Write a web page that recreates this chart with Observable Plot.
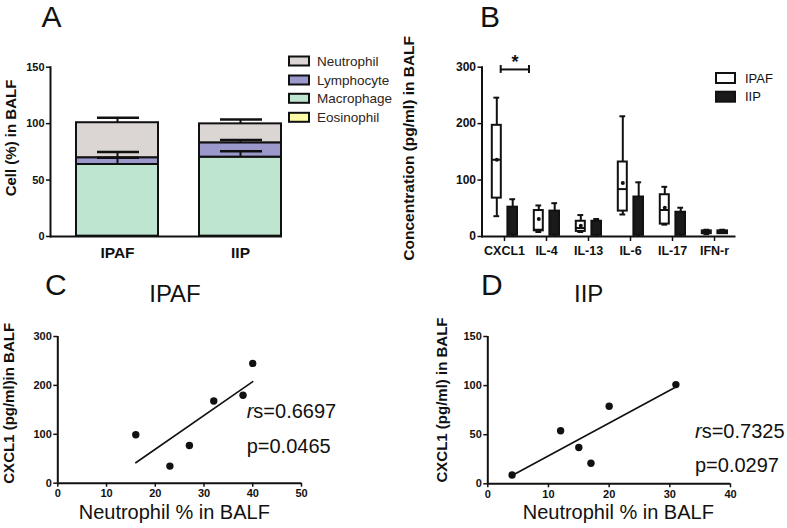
<!DOCTYPE html>
<html><head><meta charset="utf-8">
<script src="https://cdn.jsdelivr.net/npm/d3@7"></script>
<script src="https://cdn.jsdelivr.net/npm/@observablehq/plot@0.6"></script>
<style>
body{margin:0;background:#fff;}
#wrap{position:relative;width:787px;height:528px;overflow:hidden;background:#fff;font-family:"Liberation Sans",Arial,sans-serif;}
#wrap svg{position:absolute;left:0;top:0;}
</style></head><body><div id="wrap"></div>
<script>
// ---------- Panel A data ----------
const groups = ["IPAF", "IIP"];
const cellTypes = ["Eosinophil", "Macrophage", "Lymphocyte", "Neutrophil"]; // bottom -> top
const cellColors = ["#fdfca6", "#bde5cf", "#9b98cc", "#dbd6d3"];
const ipafCells = [0.3, 63.5, 6, 31];
const iipCells = [0.3, 70, 12.7, 16.8];
const ipafCellSD = [0, 6, 5, 4.4];
const iipCellSD = [0, 5.3, 2.6, 3.8];
const legendOrderA = ["Neutrophil", "Lymphocyte", "Macrophage", "Eosinophil"];

// ---------- Panel B data ----------
const cytokines = ["CXCL1", "IL-4", "IL-13", "IL-6", "IL-17", "IFN-r"];
const ipafMin    = [36, 8, 8, 39, 21, 4];
const ipafQ1     = [68, 10, 9, 45, 22, 5];
const ipafMedian = [136, 12, 15, 84, 47, 8];
const ipafQ3     = [197, 46, 27, 132, 74, 10];
const ipafMax    = [246, 55, 38, 213, 88, 12];
const ipafMean   = [136, 31, 19, 95, 51, 8];
const iipMin     = [0, 0, 0, 0, 0, 4];
const iipQ1      = [2, 2, 2, 2, 2, 5];
const iipQ3      = [52, 45, 27, 70, 43, 10];
const iipMax     = [66, 59, 31, 96, 51, 12];

// ---------- Panel C / D data ----------
const ipafNeutrophil = [16, 23, 27, 32, 38, 40];
const ipafCXCL1      = [99, 35, 77, 168, 180, 245];
const iipNeutrophil  = [4, 12, 15, 17, 20, 31];
const iipCXCL1       = [9, 54, 37, 21, 79, 101];

const FONT = '"Liberation Sans", Arial, sans-serif';
const W = 787, H = 528;
const wrap = document.getElementById("wrap");
const baseStyle = {background: "transparent", fontFamily: FONT, fontWeight: "bold", color: "#111", overflow: "visible"};
const axisFont = (size) => ({fontSize: size, fontWeight: "bold", fontFamily: FONT, fill: "#111"});

// ---------- Panel A ----------
const stackRows = [], errRows = [];
groups.forEach((g, gi) => {
  const vals = gi === 0 ? ipafCells : iipCells;
  const sds = gi === 0 ? ipafCellSD : iipCellSD;
  let acc = 0;
  cellTypes.forEach((t, ti) => {
    const y1 = acc, y2 = acc + vals[ti];
    stackRows.push({group: g, type: t, y1, y2});
    if (sds[ti] > 0) errRows.push({group: g, top: y2, cap: y2 + sds[ti]});
    acc = y2;
  });
});
const plotA = Plot.plot({
  width: W, height: H,
  marginLeft: 50, marginRight: W - 282, marginTop: 66.7, marginBottom: H - 236,
  style: {...baseStyle, fontSize: "11px"},
  x: {type: "band", domain: groups, paddingInner: 0.336, paddingOuter: 0.107, align: 0.943},
  y: {domain: [0, 150]},
  color: {domain: cellTypes, range: cellColors},
  marks: [
    Plot.barY(stackRows, {x: "group", y1: "y1", y2: "y2", fill: "type", stroke: "#111", strokeWidth: 2}),
    Plot.ruleX(errRows, {x: "group", y1: "top", y2: "cap", stroke: "#111", strokeWidth: 2}),
    Plot.tickY(errRows, {x: "group", y: "cap", stroke: "#111", strokeWidth: 2.5, insetLeft: 21, insetRight: 19}),
    Plot.axisY({ticks: [0, 50, 100, 150], tickSize: 4, tickPadding: 2, label: null, strokeWidth: 1.5, ...axisFont(11)}),
    Plot.axisX({tickSize: 0, tickPadding: 10, label: null, ...axisFont(15.5)}),
    Plot.ruleY([0], {stroke: "#111", strokeWidth: 2}),
    Plot.frame({anchor: "left", stroke: "#111", strokeWidth: 2})
  ]
});
wrap.appendChild(plotA);

// ---------- Panel B ----------
const boxRows = cytokines.map((c, i) => ({
  c, min: ipafMin[i], q1: ipafQ1[i], med: ipafMedian[i], q3: ipafQ3[i], max: ipafMax[i], mean: ipafMean[i],
  imin: iipMin[i], iq1: iipQ1[i], iq3: iipQ3[i], imax: iipMax[i]
}));
const plotB = Plot.plot({
  width: W, height: H,
  marginLeft: 481.5, marginRight: W - 735.5, marginTop: 66.7, marginBottom: H - 236,
  style: {...baseStyle, fontSize: "12px"},
  x: {type: "band", domain: cytokines, padding: 0},
  y: {domain: [0, 300]},
  marks: [
    // IPAF whiskers
    Plot.ruleX(boxRows, {x: "c", y1: "q3", y2: "max", dx: -7.7, stroke: "#111", strokeWidth: 2}),
    Plot.ruleX(boxRows, {x: "c", y1: "min", y2: "q1", dx: -7.7, stroke: "#111", strokeWidth: 2}),
    Plot.tickY(boxRows, {x: "c", y: "max", insetLeft: 10.4, insetRight: 25.8, stroke: "#111", strokeWidth: 2}),
    Plot.tickY(boxRows, {x: "c", y: "min", insetLeft: 10.4, insetRight: 25.8, stroke: "#111", strokeWidth: 2}),
    Plot.barY(boxRows, {x: "c", y1: "q1", y2: "q3", insetLeft: 8.8, insetRight: 24.2, fill: "white", stroke: "#111", strokeWidth: 2}),
    Plot.tickY(boxRows, {x: "c", y: "med", insetLeft: 8.8, insetRight: 24.2, stroke: "#111", strokeWidth: 2}),
    Plot.dot(boxRows, {x: "c", y: "mean", dx: -7.7, r: 2, fill: "#111"}),
    // IIP
    Plot.ruleX(boxRows, {x: "c", y1: "iq3", y2: "imax", dx: 8.2, stroke: "#111", strokeWidth: 2}),
    Plot.tickY(boxRows, {x: "c", y: "imax", insetLeft: 26.3, insetRight: 9.9, stroke: "#111", strokeWidth: 2}),
    Plot.ruleX(boxRows, {x: "c", y1: "imin", y2: "iq1", dx: 8.2, stroke: "#111", strokeWidth: 2}),
    Plot.barY(boxRows, {x: "c", y1: "iq1", y2: "iq3", insetLeft: 24.4, insetRight: 8, fill: "#1a1a1a", stroke: "#111", strokeWidth: 2}),
    // significance bracket
    Plot.tickY([cytokines[0]], {x: d => d, y: () => 296, insetLeft: 17, insetRight: -3, stroke: "#111", strokeWidth: 2}),
    Plot.ruleX([cytokines[0]], {x: d => d, y1: () => 289, y2: () => 303, dx: -3.8, stroke: "#111", strokeWidth: 2}),
    Plot.ruleX([cytokines[0]], {x: d => d, y1: () => 289, y2: () => 303, dx: 24.5, stroke: "#111", strokeWidth: 2}),
    Plot.text([cytokines[0]], {x: d => d, y: () => 309, dx: 10.5, text: () => "*", fontSize: 18, fontWeight: "bold"}),
    Plot.axisY({ticks: [0, 100, 200, 300], tickSize: 4, tickPadding: 2, label: null, strokeWidth: 1.5, ...axisFont(12)}),
    Plot.axisX({tickSize: 5, tickPadding: 5, label: null, strokeWidth: 1.5, ...axisFont(12.5)}),
    Plot.ruleY([0], {stroke: "#111", strokeWidth: 2}),
    Plot.frame({anchor: "left", stroke: "#111", strokeWidth: 2})
  ]
});
wrap.appendChild(plotB);

// ---------- Panel C ----------
const cRows = ipafNeutrophil.map((x, i) => ({x, y: ipafCXCL1[i]}));
const plotC = Plot.plot({
  width: W, height: H,
  marginLeft: 57.3, marginRight: W - 301, marginTop: 336, marginBottom: H - 482.7,
  style: {...baseStyle, fontSize: "11px"},
  x: {domain: [0, 50]},
  y: {domain: [0, 300]},
  marks: [
    Plot.axisX({ticks: [0, 10, 20, 30, 40, 50], tickSize: 4, tickPadding: 2, label: null, strokeWidth: 1.5, ...axisFont(11)}),
    Plot.axisY({ticks: [0, 100, 200, 300], tickSize: 4, tickPadding: 2, label: null, strokeWidth: 1.5, ...axisFont(11)}),
    Plot.ruleX([0], {stroke: "#111", strokeWidth: 2}),
    Plot.ruleY([0], {stroke: "#111", strokeWidth: 2}),
    Plot.linearRegressionY(cRows, {x: "x", y: "y", ci: 0, stroke: "#111", strokeWidth: 1.6}),
    Plot.dot(cRows, {x: "x", y: "y", r: 3.7, fill: "#111"})
  ]
});
wrap.appendChild(plotC);

// ---------- Panel D ----------
const dRows = iipNeutrophil.map((x, i) => ({x, y: iipCXCL1[i]}));
const plotD = Plot.plot({
  width: W, height: H,
  marginLeft: 487.3, marginRight: W - 730, marginTop: 336, marginBottom: H - 483.3,
  style: {...baseStyle, fontSize: "11px"},
  x: {domain: [0, 40]},
  y: {domain: [0, 150]},
  marks: [
    Plot.axisX({ticks: [0, 10, 20, 30, 40], tickSize: 4, tickPadding: 2, label: null, strokeWidth: 1.5, ...axisFont(11)}),
    Plot.axisY({ticks: [0, 50, 100, 150], tickSize: 4, tickPadding: 2, label: null, strokeWidth: 1.5, ...axisFont(11)}),
    Plot.ruleX([0], {stroke: "#111", strokeWidth: 2}),
    Plot.ruleY([0], {stroke: "#111", strokeWidth: 2}),
    Plot.linearRegressionY(dRows, {x: "x", y: "y", ci: 0, stroke: "#111", strokeWidth: 1.6}),
    Plot.dot(dRows, {x: "x", y: "y", r: 3.7, fill: "#111"})
  ]
});
wrap.appendChild(plotD);

// ---------- Overlay: labels & legends ----------
const ov = d3.select(wrap).append("svg").attr("width", W).attr("height", H)
  .style("font-family", FONT).style("overflow", "visible");
function txt(x, y, s, size, opts = {}) {
  const t = ov.append("text").attr("x", x).attr("y", y).attr("font-size", size)
    .attr("fill", opts.fill || "#111").attr("font-weight", opts.weight || "normal")
    .attr("text-anchor", opts.anchor || "start");
  if (opts.rotate) {
    t.attr("transform", `rotate(-90,${x},${y})`).attr("dominant-baseline", "central");
  }
  if (opts.central) t.attr("dominant-baseline", "central");
  t.text(s);
  return t;
}
// panel letters
txt(41.5, 26.7, "A", 30);
txt(480, 26.7, "B", 30);
txt(45, 295, "C", 30);
txt(481, 295, "D", 30);
// titles
txt(175, 302.3, "IPAF", 24, {anchor: "middle"});
txt(588.7, 302.3, "IIP", 24, {anchor: "middle"});
// y labels
txt(10, 138, "Cell (%) in BALF", 15, {rotate: true, weight: "bold", anchor: "middle"});
txt(408.3, 148.3, "Concentration (pg/ml) in BALF", 15.5, {rotate: true, weight: "bold", anchor: "middle"});
txt(8.3, 403.3, "CXCL1 (pg/ml)in BALF", 15, {rotate: true, weight: "bold", anchor: "middle"});
txt(441.7, 400, "CXCL1 (pg/ml) in BALF", 15, {rotate: true, weight: "bold", anchor: "middle"});
// x labels C/D
txt(174.3, 519.3, "Neutrophil % in BALF", 20, {anchor: "middle"});
txt(618.3, 519.3, "Neutrophil % in BALF", 20, {anchor: "middle"});
// stats
function stat(x, y, rs) {
  const t = ov.append("text").attr("x", x).attr("y", y).attr("font-size", 20).attr("fill", "#111");
  t.append("tspan").attr("font-style", "italic").text("r");
  t.append("tspan").text("s=" + rs);
}
stat(246.7, 418.3, "0.6697");
txt(246.7, 453, "p=0.0465", 20);
stat(695, 437.5, "0.7325");
txt(695, 471.5, "p=0.0297", 20);

// legend A
const legACenters = [61, 80, 98.3, 117.3];
legendOrderA.forEach((t, i) => {
  const cy = legACenters[i];
  ov.append("rect").attr("x", 289).attr("y", cy - 4.5).attr("width", 20).attr("height", 9)
    .attr("fill", cellColors[cellTypes.indexOf(t)]).attr("stroke", "#111").attr("stroke-width", 2);
  txt(317, cy, t, 13.5, {central: true, fill: "#2e2520"});
});
// legend B
const legB = [["IPAF", "#fff", 78], ["IIP", "#1a1a1a", 96.7]];
legB.forEach(([t, f, cy]) => {
  ov.append("rect").attr("x", 716).attr("y", cy - 5).attr("width", 19).attr("height", 10)
    .attr("fill", f).attr("stroke", "#111").attr("stroke-width", 2);
  txt(745, cy, t, 13, {central: true});
});
</script></body></html>
